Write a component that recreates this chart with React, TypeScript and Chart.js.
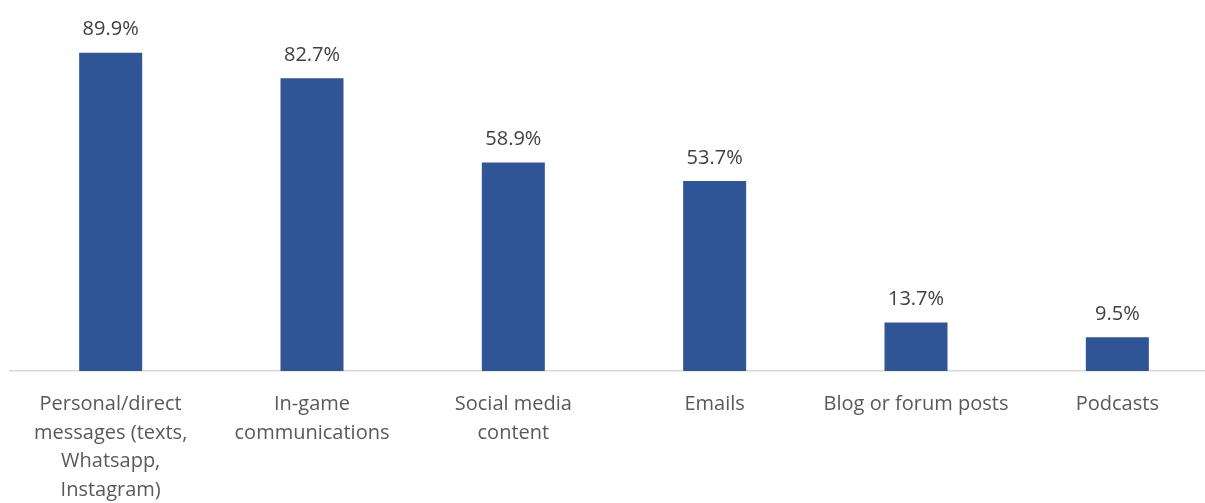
import React, { useEffect, useRef } from "react";
import { Chart, registerables } from "chart.js";

Chart.register(...registerables);

const categories: string[][] = [
  ["Personal/direct", "messages (texts,", "Whatsapp,", "Instagram)"],
  ["In-game", "communications"],
  ["Social media", "content"],
  ["Emails"],
  ["Blog or forum posts"],
  ["Podcasts"],
];
const values: number[] = [89.9, 82.7, 58.9, 53.7, 13.7, 9.5];
const valueLabels: string[] = ["89.9%", "82.7%", "58.9%", "53.7%", "13.7%", "9.5%"];

const FONT = "'Open Sans', 'Liberation Sans', sans-serif";

const valueLabelPlugin = {
  id: "valueLabels",
  afterDatasetsDraw(chart: any) {
    const ctx = chart.ctx;
    const meta = chart.getDatasetMeta(0);
    ctx.save();
    ctx.fillStyle = "#404040";
    ctx.font = `20px ${FONT}`;
    ctx.textAlign = "center";
    ctx.textBaseline = "middle";
    meta.data.forEach((el: any, i: number) => {
      ctx.fillText(valueLabels[i], el.x, el.y - 23);
    });
    ctx.restore();
  },
};

export default function App() {
  const ref = useRef<HTMLCanvasElement | null>(null);
  useEffect(() => {
    if (!ref.current) return;
    const chart = new Chart(ref.current, {
      type: "bar",
      data: {
        labels: categories,
        datasets: [
          {
            data: values,
            backgroundColor: "#2F5597",
            borderWidth: 0,
            barPercentage: 0.626,
            categoryPercentage: 0.5,
          },
        ],
      },
      options: {
        animation: false,
        responsive: false,
        maintainAspectRatio: false,
        layout: { padding: { left: 10, right: 2, top: 17, bottom: 0 } },
        plugins: { legend: { display: false }, tooltip: { enabled: false } },
        scales: {
          x: {
            grid: { display: false },
            border: { display: true, color: "#D9D9D9", width: 1.5 },
            ticks: {
              color: "#595959",
              font: { family: FONT, size: 20, lineHeight: 1.43 },
              padding: 11,
              maxRotation: 0,
              autoSkip: false,
            },
            afterFit: (scale: any) => {
              scale.height = 132;
            },
          },
          y: {
            display: false,
            min: 0,
            max: 100,
          },
        },
      },
      plugins: [valueLabelPlugin],
    });
    return () => chart.destroy();
  }, []);
  return (
    <div
      style={{
        position: "fixed",
        left: 0,
        top: 0,
        width: 1205,
        height: 503,
        overflow: "hidden",
        background: "#fff",
      }}
    >
      <canvas ref={ref} width={1220} height={503} style={{ display: "block", width: 1220, height: 503 }} />
    </div>
  );
}
